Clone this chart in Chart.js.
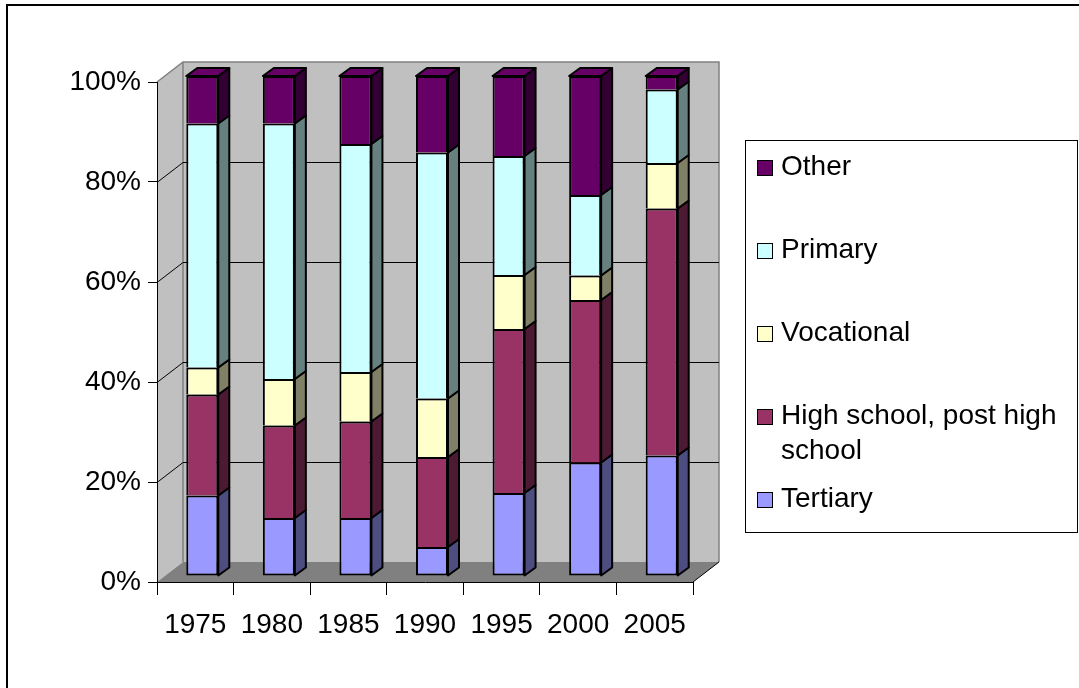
<!DOCTYPE html>
<html>
<head>
<meta charset="utf-8">
<script src="https://cdn.jsdelivr.net/npm/chart.js@4"></script>
<style>
  html, body { margin: 0; padding: 0; background: #fff; }
  #wrap { width: 1079px; height: 688px; }
</style>
</head>
<body>
<div id="wrap"><canvas id="chart" width="1079" height="688"></canvas></div>
<script>
// data (percent of each year)
const years = ["1975", "1980", "1985", "1990", "1995", "2000", "2005"];
const tertiary   = [16.1, 11.6, 11.6,  5.8, 16.6, 22.7, 24.1];
const highSchool = [20.2, 18.5, 19.3, 18.0, 32.8, 32.5, 49.4];
const vocational = [ 5.4,  9.3,  9.9, 11.7, 10.8,  4.9,  9.1];
const primary    = [48.8, 51.1, 45.6, 49.2, 23.8, 16.1, 14.7];
const other      = [ 9.5,  9.5, 13.6, 15.3, 16.0, 23.8,  2.7];
const yTicks = [0, 20, 40, 60, 80, 100];

const FONT = "Liberation Sans, Arial, sans-serif";

// depth of the walls and of the bars
const WALL_DX = 26, WALL_DY = -20;
const BAR_SHIFT_X = 7, BAR_SHIFT_Y = -6;
const BAR_DX = 11, BAR_DY = -8;

function ds(label, data, color, side, skip) {
    return {
        label: label, data: data,
        backgroundColor: color, sideColor: side,
        borderColor: "#000", borderWidth: 2,
        borderSkipped: skip,
        barPercentage: 0.418, categoryPercentage: 1
    };
}

// walls, floor and gridlines
const walls = {
    id: "walls",
    beforeDraw(chart) {
        const ctx = chart.ctx;
        const a = chart.chartArea;
        const y = chart.scales.y;
        ctx.save();
        ctx.fillStyle = "#fff";
        ctx.fillRect(0, 0, chart.width, chart.height);
        // outer frame
        ctx.strokeStyle = "#000";
        ctx.lineWidth = 2;
        ctx.strokeRect(7, 5, chart.width + 10, chart.height + 10);

        // side wall
        ctx.fillStyle = "#c0c0c0";
        ctx.beginPath();
        ctx.moveTo(a.left, a.top);
        ctx.lineTo(a.left + WALL_DX, a.top + WALL_DY);
        ctx.lineTo(a.left + WALL_DX, a.bottom + WALL_DY);
        ctx.lineTo(a.left, a.bottom);
        ctx.closePath();
        ctx.fill();
        // back wall
        ctx.fillRect(a.left + WALL_DX, a.top + WALL_DY, a.right - a.left, a.bottom - a.top);
        // floor
        ctx.fillStyle = "#808080";
        ctx.beginPath();
        ctx.moveTo(a.left, a.bottom);
        ctx.lineTo(a.right, a.bottom);
        ctx.lineTo(a.right + WALL_DX, a.bottom + WALL_DY);
        ctx.lineTo(a.left + WALL_DX, a.bottom + WALL_DY);
        ctx.closePath();
        ctx.fill();

        // wall edges (grey)
        ctx.strokeStyle = "#808080";
        ctx.lineWidth = 1.5;
        ctx.beginPath();
        ctx.moveTo(a.left, a.top);
        ctx.lineTo(a.left + WALL_DX, a.top + WALL_DY);
        ctx.lineTo(a.right + WALL_DX, a.top + WALL_DY);
        ctx.lineTo(a.right + WALL_DX, a.bottom + WALL_DY);
        ctx.moveTo(a.left + WALL_DX, a.top + WALL_DY);
        ctx.lineTo(a.left + WALL_DX, a.bottom + WALL_DY);
        ctx.stroke();

        // gridlines
        ctx.strokeStyle = "#000";
        ctx.lineWidth = 1;
        yTicks.forEach(v => {
            if (v === 0 || v === 100) return;
            const py = Math.round(y.getPixelForValue(v)) + 0.5;
            ctx.beginPath();
            ctx.moveTo(a.left, py);
            ctx.lineTo(a.left + WALL_DX, py + WALL_DY);
            ctx.lineTo(a.right + WALL_DX, py + WALL_DY);
            ctx.stroke();
        });
        // front-right floor edge
        ctx.beginPath();
        ctx.moveTo(a.right, a.bottom);
        ctx.lineTo(a.right + WALL_DX, a.bottom + WALL_DY);
        ctx.stroke();
        ctx.restore();
    }
};

// bars: shift into the depth and add side / top faces
const bars3d = {
    id: "bars3d",
    beforeDatasetsDraw(chart) {
        chart.ctx.save();
        chart.ctx.translate(BAR_SHIFT_X, BAR_SHIFT_Y);
    },
    afterDatasetsDraw(chart) {
        const ctx = chart.ctx;
        const n = chart.data.datasets.length;
        ctx.lineWidth = 2;
        ctx.strokeStyle = "#000";
        ctx.lineJoin = "round";
        chart.data.datasets.forEach((d, i) => {
            const meta = chart.getDatasetMeta(i);
            meta.data.forEach(bar => {
                const p = bar.getProps(["x", "y", "base", "width"], true);
                const l = p.x - p.width / 2, r = p.x + p.width / 2;
                ctx.fillStyle = d.sideColor;
                ctx.beginPath();
                ctx.moveTo(r, p.y);
                ctx.lineTo(r + BAR_DX, p.y + BAR_DY);
                ctx.lineTo(r + BAR_DX, p.base + BAR_DY);
                ctx.lineTo(r, p.base);
                ctx.closePath();
                ctx.fill();
                ctx.stroke();
                if (i === n - 1) {
                    ctx.fillStyle = d.backgroundColor;
                    ctx.beginPath();
                    ctx.moveTo(l, p.y);
                    ctx.lineTo(l + BAR_DX, p.y + BAR_DY);
                    ctx.lineTo(r + BAR_DX, p.y + BAR_DY);
                    ctx.lineTo(r, p.y);
                    ctx.closePath();
                    ctx.fill();
                    ctx.stroke();
                }
            });
        });
        ctx.restore();
    }
};

// legend in a box on the right, top item = last series
const boxLegend = {
    id: "boxLegend",
    afterDraw(chart) {
        const ctx = chart.ctx;
        ctx.save();
        ctx.strokeStyle = "#000";
        ctx.lineWidth = 1;
        ctx.strokeRect(745.5, 140.5, 332, 392);
        ctx.font = "28px " + FONT;
        ctx.fillStyle = "#000";
        ctx.textBaseline = "alphabetic";
        const items = chart.data.datasets.slice().reverse();
        const lines = {"High school, post high school": ["High school, post high", "school"]};
        items.forEach((d, k) => {
            const cy = 167 + k * 83;
            ctx.fillStyle = d.backgroundColor;
            ctx.fillRect(757, cy - 7, 15, 15);
            ctx.strokeRect(757.5, cy - 6.5, 15, 15);
            ctx.fillStyle = "#000";
            const txt = lines[d.label] || [d.label];
            txt.forEach((t, j) => ctx.fillText(t, 781, cy + 8 + j * 35));
        });
        ctx.restore();
    }
};

new Chart(document.getElementById("chart"), {
    type: "bar",
    data: {
        labels: years,
        datasets: [
            ds("Tertiary", tertiary, "#9999ff", "#4d4d80", false),
            ds("High school, post high school", highSchool, "#993366", "#4d1a33", "start"),
            ds("Vocational", vocational, "#ffffcc", "#808066", "start"),
            ds("Primary", primary, "#ccffff", "#668080", "start"),
            ds("Other", other, "#660066", "#330033", "start")
        ]
    },
    options: {
        responsive: false,
        animation: false,
        events: [],
        layout: { padding: { left: 0, top: 82, right: 386, bottom: 0 } },
        plugins: { legend: { display: false }, tooltip: { enabled: false } },
        scales: {
            x: {
                stacked: true,
                grid: { drawOnChartArea: false, offset: true, tickLength: 13, color: "#000" },
                border: { color: "#000", width: 1 },
                ticks: { color: "#000", font: { family: FONT, size: 28 }, padding: 13, maxRotation: 0 },
                afterFit(s) { s.height = 106; }
            },
            y: {
                stacked: true,
                min: 0, max: 100,
                afterBuildTicks(s) { s.ticks = yTicks.map(v => ({ value: v })); },
                grid: { drawOnChartArea: false, tickLength: 9, color: "#000" },
                border: { color: "#000", width: 1 },
                ticks: { color: "#000", font: { family: FONT, size: 28 }, padding: 7,
                         callback: v => v + "%" },
                afterFit(s) { s.width = 157; }
            }
        }
    },
    plugins: [walls, bars3d, boxLegend]
});
</script>
</body>
</html>
